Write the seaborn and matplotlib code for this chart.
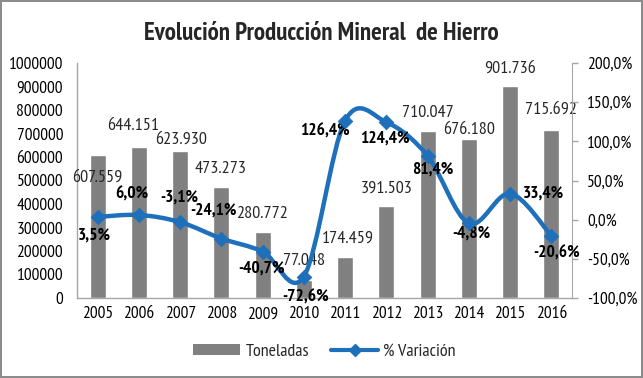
import numpy as np
import pandas as pd
import matplotlib
matplotlib.use('Agg')
import matplotlib.pyplot as plt
from matplotlib import font_manager
from matplotlib.path import Path
from matplotlib.patches import PathPatch, Patch
from matplotlib.lines import Line2D
from matplotlib.ticker import FuncFormatter, MultipleLocator
import seaborn as sns

years = ['2005', '2006', '2007', '2008', '2009', '2010', '2011', '2012', '2013', '2014', '2015', '2016']
toneladas = [607559, 644151, 623930, 473273, 280772, 77048, 174459, 391503, 710047, 676180, 901736, 715692]
variacion = [3.5, 6.0, -3.1, -24.1, -40.7, -72.6, 126.4, 124.4, 81.4, -4.8, 33.4, -20.6]
ton_labels = ['607.559', '644.151', '623.930', '473.273', '280.772', '77.048',
              '174.459', '391.503', '710.047', '676.180', '901.736', '715.692']
var_labels = ['3,5%', '6,0%', '-3,1%', '-24,1%', '-40,7%', '-72,6%',
              '126,4%', '124,4%', '81,4%', '-4,8%', '33,4%', '-20,6%']

# label offsets in pixels (dx, dy) - Excel labels were moved by hand
ton_off = [(0, -22), (-6, 21), (1, 12), (-1, 18), (-1, 18), (0, 19),
           (3, 18), (0, 17), (0, 18), (0, 9), (0, 17), (0, 20)]
var_off = [(-3, -19), (-7, 20), (-1, 25), (-8, 28), (-1, -17), (2, -21),
           (-20, -11), (-2, -16), (5, -14), (2, -10), (33, 0), (5, -18)]

sns.set_style('white')


# narrow font like Arial Narrow, one that also has a real bold
def has_bold(name):
    for f in font_manager.fontManager.ttflist:
        if f.name == name:
            w = f.weight
            if (isinstance(w, int) and w >= 700) or w in ('bold', 'heavy', 'black'):
                return True
    return False


candidates = ['Liberation Sans Narrow', 'Arial Narrow', 'PT Sans Narrow', 'Pragati Narrow',
              'Roboto Condensed', 'Archivo Narrow', 'Fira Sans Condensed', 'IBM Plex Sans Condensed',
              'Encode Sans Condensed', 'Barlow Semi Condensed', 'Asap Condensed']
narrow = [f for f in candidates if has_bold(f)]
plt.rcParams['font.family'] = narrow[:1] + ['Liberation Sans', 'DejaVu Sans']

BAR = '#808080'
BLUE = '#1f70bb'
AXC = '#a6a6a6'

df = pd.DataFrame({'year': years, 'ton': toneladas, 'var': variacion})

fig = plt.figure(figsize=(6.43, 3.78), dpi=100)
fig.patch.set_edgecolor('#8c8c8c')
fig.patch.set_linewidth(1.5)
ax = fig.add_axes([77 / 643, 1 - 298 / 378, (572 - 77) / 643, (298 - 63) / 378])

sns.barplot(data=df, x='year', y='ton', color=BAR, width=0.39, saturation=1, ax=ax)
ax.set_ylim(0, 1000000)
ax.set_xlim(-0.5, 11.5)
ax.yaxis.set_major_locator(MultipleLocator(100000))
ax.yaxis.set_major_formatter(FuncFormatter(lambda v, p: f'{int(v)}'))
ax.set_xlabel('')
ax.set_ylabel('')
ax.tick_params(axis='y', labelsize=12.5, colors='black', length=0, pad=10)
ax.tick_params(axis='x', labelsize=12.5, colors='black', length=0, pad=6)
for s in ['top', 'right']:
    ax.spines[s].set_visible(False)
for s in ['left', 'bottom']:
    ax.spines[s].set_color(AXC)
    ax.spines[s].set_linewidth(1)

for i, (v, lab) in enumerate(zip(toneladas, ton_labels)):
    dx, dy = ton_off[i]
    ax.annotate(lab, (i, v), xytext=(dx * 0.72, dy * 0.72), textcoords='offset points',
                ha='center', va='center', fontsize=13, color='#262626')

ax2 = ax.twinx()
ax2.set_ylim(-100, 200)
ax2.yaxis.set_major_locator(MultipleLocator(50))
ax2.yaxis.set_major_formatter(FuncFormatter(lambda v, p: f'{v:.1f}%'.replace('.', ',')))
ax2.tick_params(axis='y', labelsize=12.5, colors='black', length=4, width=1, color=AXC, pad=7)
for s in ['top', 'left', 'bottom']:
    ax2.spines[s].set_visible(False)
ax2.spines['right'].set_color(AXC)

# smoothed line (Excel style Catmull-Rom bezier through the points)
x = np.arange(len(variacion), dtype=float)
y = np.array(variacion, dtype=float)
verts = [(x[0], y[0])]
codes = [Path.MOVETO]
n = len(x)
for i in range(n - 1):
    p0 = (x[max(i - 1, 0)], y[max(i - 1, 0)])
    p1 = (x[i], y[i])
    p2 = (x[i + 1], y[i + 1])
    p3 = (x[min(i + 2, n - 1)], y[min(i + 2, n - 1)])
    c1 = (p1[0] + (p2[0] - p0[0]) / 6, p1[1] + (p2[1] - p0[1]) / 6)
    c2 = (p2[0] - (p3[0] - p1[0]) / 6, p2[1] - (p3[1] - p1[1]) / 6)
    verts += [c1, c2, p2]
    codes += [Path.CURVE4] * 3
ax2.add_patch(PathPatch(Path(verts, codes), facecolor='none', edgecolor=BLUE, lw=3.2,
                        capstyle='round', joinstyle='round', zorder=3))
sns.scatterplot(x=x, y=y, marker='D', s=55, color=BLUE, edgecolor=BLUE, ax=ax2, zorder=4)

for i, (v, lab) in enumerate(zip(variacion, var_labels)):
    dx, dy = var_off[i]
    ax2.annotate(lab, (i, v), xytext=(dx * 0.72, dy * 0.72), textcoords='offset points',
                 ha='center', va='center', fontsize=12.5, fontweight='bold', color='black')

fig.text(0.5, 1 - 34 / 378, 'Evolución Producción Mineral  de Hierro', ha='center', va='center',
         fontsize=18, fontweight='bold')

handles = [Patch(facecolor=BAR, edgecolor='none'),
           Line2D([], [], color=BLUE, lw=3, marker='D', markersize=6)]
fig.legend(handles, ['Toneladas', '% Variación'], loc='center', bbox_to_anchor=(0.505, 1 - 352 / 378),
           ncol=2, frameon=False, fontsize=13, handlelength=2.6, handleheight=0.6,
           columnspacing=1.2, handletextpad=0.3)

fig.savefig('out.png', dpi=100, edgecolor=fig.get_edgecolor())
